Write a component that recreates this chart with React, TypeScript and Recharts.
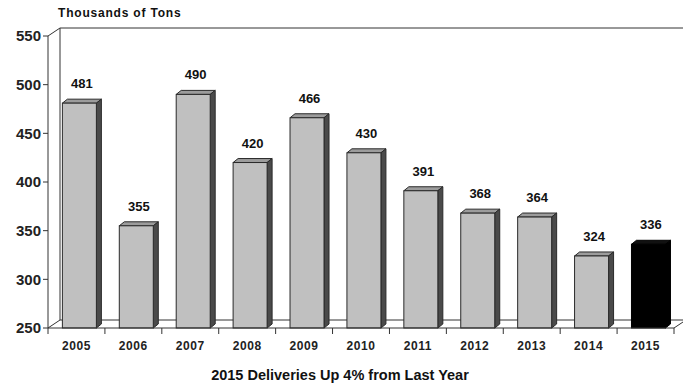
import React from 'react'
import { BarChart, Bar, XAxis, YAxis, ReferenceArea, LabelList } from 'recharts'

const years = ['2005', '2006', '2007', '2008', '2009', '2010', '2011', '2012', '2013', '2014', '2015']
const deliveries = [481, 355, 490, 420, 466, 430, 391, 368, 364, 324, 336]
const yTicks = [250, 300, 350, 400, 450, 500, 550]
const highlightYear = '2015'

const rows = years.map((year, i) => ({ year, tons: deliveries[i] }))

const FONT = '"Liberation Sans", Arial, sans-serif'
const W = 683
const H = 387
const Y_AXIS_W = 48
const MARGIN_R = 9
const BAND = (W - Y_AXIS_W - MARGIN_R) / years.length

// 3d offsets
const BAR_DX = 5
const BAR_DY = 4
const SHIFT = 3
const WALL_DX = 12
const WALL_DY = 8

function Bar3D(props: any) {
  const { x, y, width, height, payload } = props
  const dark = payload.year === highlightYear
  const fx = x + SHIFT
  const front = dark ? '#000' : '#c0c0c0'
  const top = dark ? '#111' : '#9c9c9c'
  const side = dark ? '#000' : '#4a4a4a'
  const stroke = dark ? '#000' : '#2a2a2a'
  return (
    <g>
      <path d={`M${fx},${y} L${fx + BAR_DX},${y - BAR_DY} L${fx + width + BAR_DX},${y - BAR_DY} L${fx + width},${y} Z`} fill={top} stroke={stroke} />
      <path d={`M${fx + width},${y} L${fx + width + BAR_DX},${y - BAR_DY} L${fx + width + BAR_DX},${y + height - BAR_DY} L${fx + width},${y + height} Z`} fill={side} stroke={stroke} />
      <rect x={fx} y={y} width={width} height={height} fill={front} stroke={stroke} />
    </g>
  )
}

function Frame(props: any) {
  const { x, y, width, height } = props
  const b = y + height
  const r = x + width
  return (
    <g fill="none" stroke="#333" strokeWidth={1}>
      <path d={`M${x},${y} L${x + WALL_DX},${y - WALL_DY} L${r + WALL_DX},${y - WALL_DY}`} />
      <path d={`M${x + WALL_DX},${y - WALL_DY} L${x + WALL_DX},${b - WALL_DY} L${r + WALL_DX},${b - WALL_DY} L${r},${b}`} />
      <path d={`M${x},${b} L${x + WALL_DX},${b - WALL_DY}`} />
    </g>
  )
}

function YearTick(props: any) {
  const { x, y, payload, index } = props
  const half = BAND / 2
  return (
    <g>
      {index === 0 && <line x1={x - half} y1={y} x2={x - half} y2={y + 6} stroke="#333" />}
      <line x1={x + half} y1={y} x2={x + half} y2={y + 6} stroke="#333" />
      <text x={x} y={y + 22} textAnchor="middle" fontFamily={FONT} fontSize={12} fontWeight="bold" letterSpacing={0.6} fill="#222">
        {payload.value}
      </text>
    </g>
  )
}

const ValueLabel = (p: any) => (
  <text x={p.x + p.width / 2 + SHIFT + BAR_DX / 2} y={p.y - BAR_DY - 11} textAnchor="middle" fontFamily={FONT} fontSize={13} fontWeight="bold" fill="#111">
    {p.value}
  </text>
)

export default function App() {
  return (
    <div style={{ position: 'absolute', left: 0, top: 0, width: W, height: H, background: '#fff' }}>
      <BarChart width={W} height={H} data={rows} margin={{ top: 36, right: MARGIN_R, bottom: 0, left: 0 }} barCategoryGap="20%">
        <ReferenceArea y1={250} y2={550} shape={Frame} fill="none" />
        <XAxis
          dataKey="year"
          height={59}
          tick={<YearTick />}
          tickLine={false}
          tickSize={0}
          tickMargin={0}
          interval={0}
          axisLine={{ stroke: '#333' }}
          label={{
            content: (p: any) => (
              <text x={p.viewBox.x + p.viewBox.width / 2 - 21} y={p.viewBox.y + 52} textAnchor="middle" fontFamily={FONT} fontSize={14.5} fontWeight="bold" fill="#111">
                2015 Deliveries Up 4% from Last Year
              </text>
            ),
          }}
        />
        <YAxis
          width={Y_AXIS_W}
          domain={[250, 550]}
          ticks={yTicks}
          interval={0}
          tickSize={5}
          axisLine={{ stroke: '#333' }}
          tickLine={{ stroke: '#333' }}
          tick={{ fontFamily: FONT, fontSize: 15, fontWeight: 'bold', fill: '#222' }}
          label={{
            content: (p: any) => (
              <text x={p.viewBox.x + p.viewBox.width + 10} y={p.viewBox.y - 19} fontFamily={FONT} fontSize={12} fontWeight="bold" letterSpacing={0.8} fill="#111">
                Thousands of Tons
              </text>
            ),
          }}
        />
        <Bar dataKey="tons" shape={<Bar3D />} isAnimationActive={false}>
          <LabelList dataKey="tons" content={ValueLabel} />
        </Bar>
      </BarChart>
    </div>
  )
}
